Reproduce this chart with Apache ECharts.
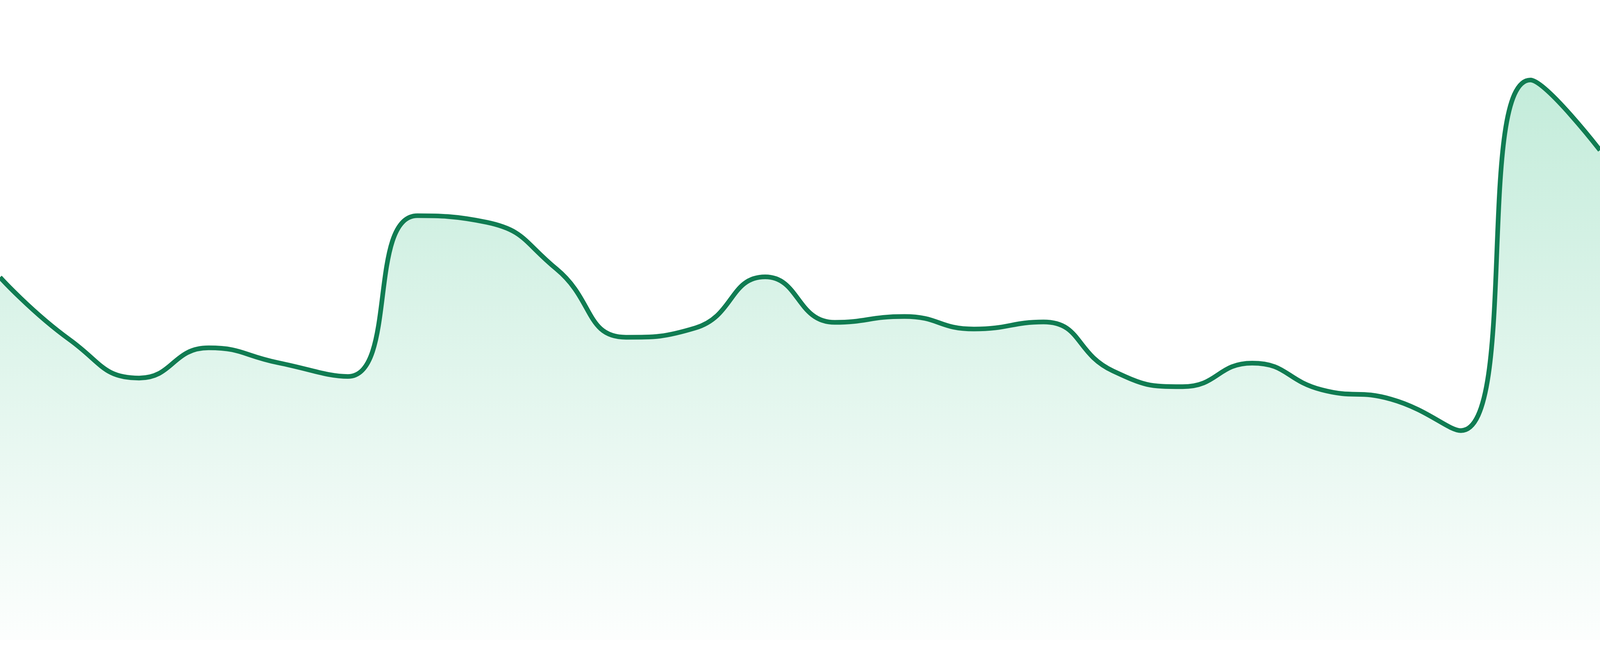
<!DOCTYPE html>
<html>
<head>
<meta charset="utf-8">
<script src="https://cdn.jsdelivr.net/npm/echarts@6/dist/echarts.min.js"></script>
<style>
  html, body { margin: 0; padding: 0; background: #ffffff; overflow: hidden; }
  #chart { width: 100vw; height: 100vh; }
</style>
</head>
<body>
<div id="chart"></div>
<script>
// Categories (24 evenly spaced points)
var categories = ['1','2','3','4','5','6','7','8','9','10','11','12','13','14','15','16','17','18','19','20','21','22','23','24'];
// Series values
var values = [925, 766, 668, 745, 707, 672, 1082, 1065, 946, 772, 796, 926, 810, 825, 793, 811, 686, 646, 706, 638, 614, 534, 1428, 1249];
var yMin = 0;
var yMax = 1632;

var el = document.getElementById('chart');
var s = el.clientWidth / 4800;
var chart = echarts.init(el);
chart.setOption({
  animation: false,
  backgroundColor: '#ffffff',
  grid: { left: 0, right: 0, top: 0, bottom: 48 * s, containLabel: false },
  xAxis: {
    type: 'category',
    data: categories,
    boundaryGap: false,
    show: false
  },
  yAxis: {
    type: 'value',
    min: yMin,
    max: yMax,
    show: false,
    splitLine: { show: false }
  },
  series: [{
    type: 'line',
    data: values,
    smooth: true,
    symbol: 'none',
    lineStyle: { color: '#107c52', width: 14 * s },
    areaStyle: {
      color: new echarts.graphic.LinearGradient(0, 0, 0, 1, [
        { offset: 0, color: 'rgba(52,190,130,0.42)' },
        { offset: 1, color: 'rgba(52,190,130,0.02)' }
      ])
    }
  }]
});
</script>
</body>
</html>
